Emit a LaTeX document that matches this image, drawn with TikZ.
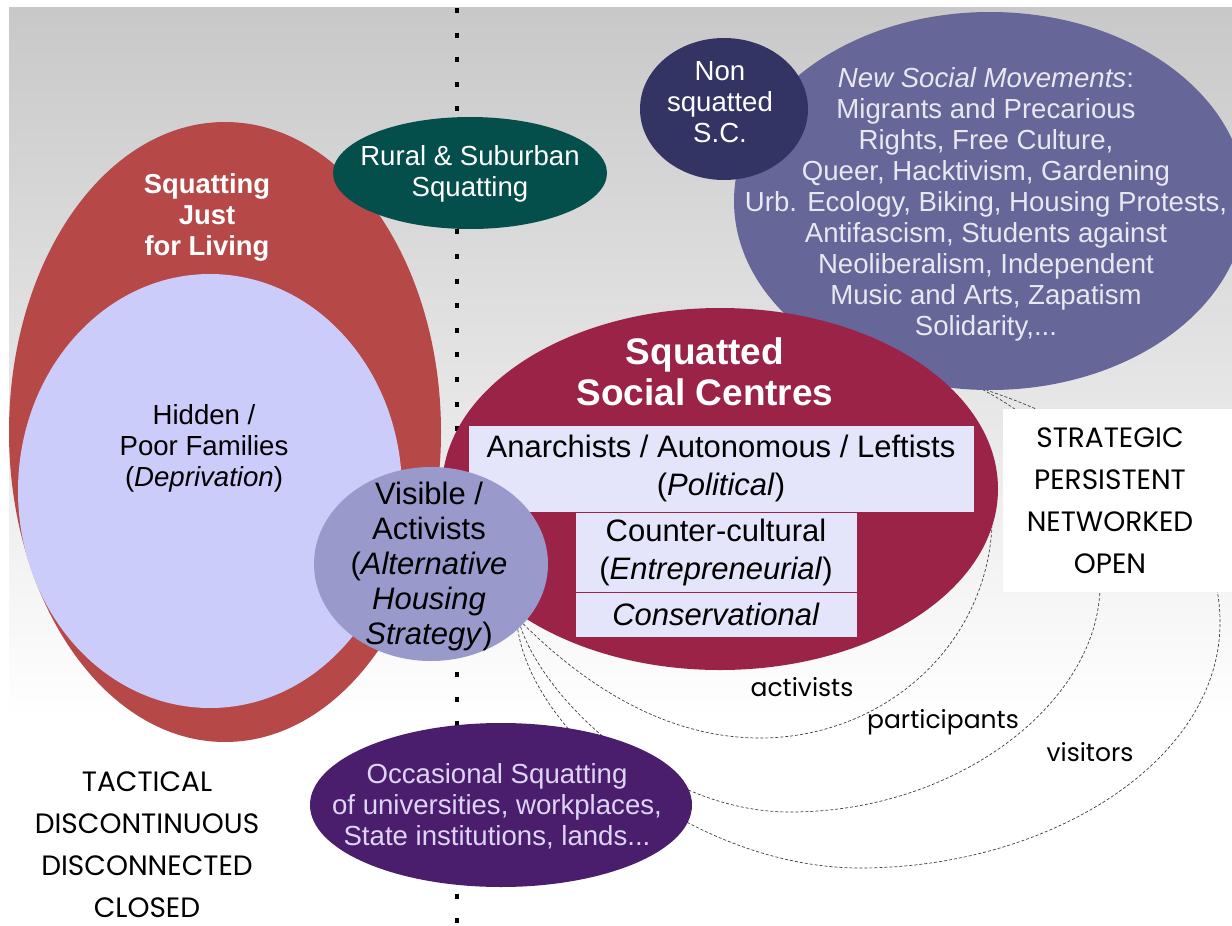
\documentclass[tikz,border=0pt]{standalone}
\usepackage{fontspec}
\setmainfont{Liberation Sans}
\newfontfamily\geofont{Poppins}
\usetikzlibrary{shapes.geometric,backgrounds}

\definecolor{bgtop}{RGB}{200,200,200}
\definecolor{bgmid}{RGB}{232,232,232}
\definecolor{livingred}{RGB}{182,72,72}
\definecolor{hiddenblue}{RGB}{204,204,250}
\definecolor{ruralteal}{RGB}{4,78,75}
\definecolor{nonsqnavy}{RGB}{51,51,100}
\definecolor{nsmpurple}{RGB}{102,102,153}
\definecolor{nsmtext}{RGB}{232,232,242}
\definecolor{sscred}{RGB}{155,35,72}
\definecolor{boxfill}{RGB}{228,228,250}
\definecolor{visblue}{RGB}{153,153,204}
\definecolor{occpurple}{RGB}{74,30,108}
\definecolor{occtext}{RGB}{222,212,245}

\begin{document}
\begin{tikzpicture}[x=1pt,y=-1pt]
		\tikzset{blob/.style = {ellipse, inner sep=0pt}}
		\tikzset{body/.style = {align=center, font=\fontsize{27.6}{31}\selectfont}}
		\tikzset{kind/.style = {draw=sscred, line width=1pt, fill=boxfill, inner sep=0pt, align=center, font=\fontsize{31}{38}\selectfont}}
		\tikzset{trait/.style = {align=center, inner sep=0pt, font=\geofont\fontsize{28}{42}\selectfont}}
		\tikzset{crowd/.style = {font=\geofont\fontsize{25}{30}\selectfont}}
		\tikzset{link/.style = {densely dashed, line width=0.7pt, black!75}}

		\useasboundingbox (0,0) rectangle (1232,926);

		\node[blob, fill=livingred,  minimum width=432pt, minimum height=620pt] (living) at ( 225, 432) {};
		\node[blob, fill=hiddenblue, minimum width=384pt, minimum height=434pt] (hidden) at ( 210, 491) {};
		\node[blob, fill=ruralteal,  minimum width=274pt, minimum height=112pt] (rural)  at ( 470, 173) {};
		\node[blob, fill=nsmpurple,  minimum width=512pt, minimum height=378pt] (nsm)    at ( 990, 201) {};
		\node[blob, fill=nonsqnavy,  minimum width=168pt, minimum height=142pt] (nonsq)  at ( 724, 109) {};
		\node[blob, fill=sscred,     minimum width=556pt, minimum height=362pt] (ssc)    at ( 720, 489) {};

		\node[kind, minimum width=506pt, minimum height=87pt] (political) at ( 721, 468.5) {Anarchists / Autonomous / Leftists\\(\textit{Political})};
		\node[kind, minimum width=282pt, minimum height=80pt] (counter)   at ( 716, 552)   {Counter-cultural\\(\textit{Entrepreneurial})};
		\node[kind, minimum width=282pt, minimum height=45pt] (conserv)   at ( 716, 614.5) {\textit{Conservational}};

		\node[blob, fill=visblue,    minimum width=234pt, minimum height=194pt] (vis)    at ( 431, 564) {};
		\node[blob, fill=occpurple,  minimum width=382pt, minimum height=164pt] (occ)    at ( 501, 805) {};

		\node[align=center, text=white, font=\bfseries\fontsize{27.4}{31}\selectfont] (livingtext) at ( 207, 217) {Squatting\\Just\\for Living};
		\node[body]                             (hiddentext) at ( 204, 448) {Hidden /\\Poor Families\\(\textit{Deprivation})};
		\node[body, text=white]                 (ruraltext)  at ( 470, 174) {Rural \& Suburban\\Squatting};
		\node[body, text=white]                 (nonsqtext)  at ( 720, 102) {Non\\squatted\\S.C.};
		\node[body, text=nsmtext]               (nsmtext)    at ( 986, 204) {\textit{New Social Movements}:\\Migrants and Precarious\\Rights, Free Culture,\\Queer, Hacktivism, Gardening\\Urb. Ecology, Biking, Housing Protests,\\Antifascism, Students against\\Neoliberalism, Independent\\Music and Arts, Zapatism\\Solidarity,...};
		\node[align=center, text=white, font=\bfseries\fontsize{37}{41}\selectfont] (ssctext) at ( 705, 372) {Squatted\\Social Centres};
		\node[align=center, font=\fontsize{31}{35}\selectfont] (vistext) at ( 429, 566) {Visible /\\Activists\\(\textit{Alternative}\\\textit{Housing}\\\textit{Strategy})};
		\node[body, text=occtext]               (occtext)    at ( 497, 806) {Occasional Squatting\\of universities, workplaces,\\State institutions, lands...};

		\node[trait] (tactical)     at ( 147, 845) {TACTICAL\\DISCONTINUOUS\\DISCONNECTED\\CLOSED};
		\node[trait] (strategic)    at (1110, 501) {STRATEGIC\\PERSISTENT\\NETWORKED\\OPEN};
		\node[crowd] (activists)    at ( 802, 687) {activists};
		\node[crowd] (participants) at ( 943, 722) {participants};
		\node[crowd] (visitors)     at (1090, 752) {visitors};

		\coordinate (divtop) at (457, 8);
		\coordinate (divbot) at (457, 926);

		\begin{scope}[on background layer]
		\fill[white] (0,0) rectangle (1232,926);
		\fill[top color=bgtop, middle color=bgmid, bottom color=white] (9,7) rectangle (1232,720);
		\draw[line width=4pt, dash pattern=on 5pt off 19.6pt] (divtop) -- (divbot);
		\draw[link] (vis.-33) .. controls (600,700) and (680,738) .. (760,738) .. controls (880,738) and (985,650) .. (ssc.-8);
		\draw[link] (vis.-35) .. controls (545,700) and (660,812) .. (790,812) .. controls (960,812) and (1100,700) .. (1100,585) .. controls (1100,470) and (1040,420) .. (nsm.-92);
		\draw[link] (vis.-37) .. controls (535,740) and (700,868) .. (860,868) .. controls (1050,868) and (1222,760) .. (1220,620) .. controls (1218,480) and (1060,415) .. (nsm.-91);
		\fill[white] (1003,409) rectangle (1232,592);
		\end{scope}
\end{tikzpicture}
\end{document}
